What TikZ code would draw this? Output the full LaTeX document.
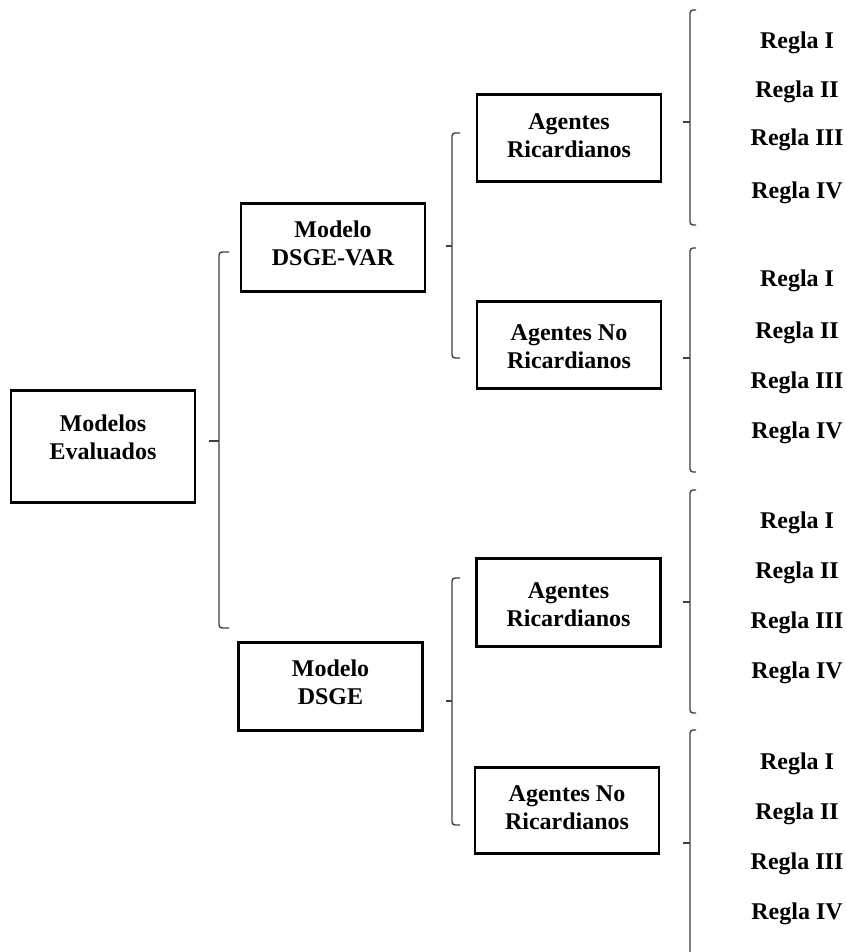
\documentclass[tikz,border=0pt]{standalone}
\usepackage{fontspec}
\setmainfont{Liberation Serif}
\newcommand\liftxt[2]{\raisebox{#1}[\height][\depth]{\begin{tabular}{@{}c@{}}#2\end{tabular}}}
\begin{document}
\begin{tikzpicture}[x=1pt,y=-1pt,
  box/.style={draw, line width=2.6pt, minimum width=184pt, inner sep=0pt,
    font=\fontsize{24}{28}\selectfont\bfseries},
  regla/.style={anchor=base, inner sep=0pt, font=\fontsize{24}{28}\selectfont\bfseries},
  brc/.style={draw=black!75, line width=1.4pt, rounded corners=3pt},
  tick/.style={draw=black!75, line width=1.4pt}]
\useasboundingbox (0,0) rectangle (846,952);
\fill[white] (0,0) rectangle (846,952);

% boxes
\node[box, minimum height=112pt] (me)   at (103,446.5) {\liftxt{6.6pt}{Modelos\\Evaluados}};
\node[box, minimum height=88pt]  (dv)   at (333,247.5) {\liftxt{1.3pt}{Modelo\\DSGE-VAR}};
\node[box, minimum height=88pt]  (d)    at (330.5,686.5) {\liftxt{2pt}{Modelo\\DSGE}};
\node[box, minimum height=87pt]  (ar1)  at (569,138) {\liftxt{0pt}{Agentes\\Ricardianos}};
\node[box, minimum height=87pt]  (anr1) at (569,345) {\liftxt{-3.4pt}{Agentes No\\Ricardianos}};
\node[box, minimum height=88pt]  (ar2)  at (568.5,602.5) {\liftxt{-4pt}{Agentes\\Ricardianos}};
\node[box, minimum height=86pt]  (anr2) at (567,810.5) {\liftxt{1pt}{Agentes No\\Ricardianos}};

% regla lists
\foreach \g/\a/\b/\c/\d in {A/49/98/146/198, B/286/338/388/438, C/528/578/628/678, D/769/819/869/919}{
  \node[regla] (r\g1) at (797,\a) {Regla I};
  \node[regla] (r\g2) at (797,\b) {Regla II};
  \node[regla] (r\g3) at (797,\c) {Regla III};
  \node[regla] (r\g4) at (797,\d) {Regla IV};
}

% brace coordinates
\coordinate (b1t) at (229,252); \coordinate (b1m) at (219,441); \coordinate (b1b) at (229,628);
\coordinate (b2t) at (460,133); \coordinate (b2m) at (452,246); \coordinate (b2b) at (460,358);
\coordinate (b3t) at (460,578); \coordinate (b3m) at (452,701); \coordinate (b3b) at (460,825);
\coordinate (bAt) at (696,10);  \coordinate (bAm) at (690,122); \coordinate (bAb) at (696,225);
\coordinate (bBt) at (696,248); \coordinate (bBm) at (690,358); \coordinate (bBb) at (696,472);
\coordinate (bCt) at (696,490); \coordinate (bCm) at (690,602); \coordinate (bCb) at (696,713);
\coordinate (bDt) at (696,730); \coordinate (bDm) at (690,843); \coordinate (bDb) at (690,952);

% braces
\draw[brc] (b1t) -| (b1m) |- (b1b);
\draw[tick] (b1m) -- ++(-10,0);
\draw[brc] (b2t) -| (b2m) |- (b2b);
\draw[tick] (b2m) -- ++(-6,0);
\draw[brc] (b3t) -| (b3m) |- (b3b);
\draw[tick] (b3m) -- ++(-6,0);
\draw[brc] (bAt) -| (bAm) |- (bAb);
\draw[tick] (bAm) -- ++(-7,0);
\draw[brc] (bBt) -| (bBm) |- (bBb);
\draw[tick] (bBm) -- ++(-7,0);
\draw[brc] (bCt) -| (bCm) |- (bCb);
\draw[tick] (bCm) -- ++(-7,0);
\draw[brc] (bDt) -| (bDm) -- (bDb);
\draw[tick] (bDm) -- ++(-7,0);
\end{tikzpicture}
\end{document}
